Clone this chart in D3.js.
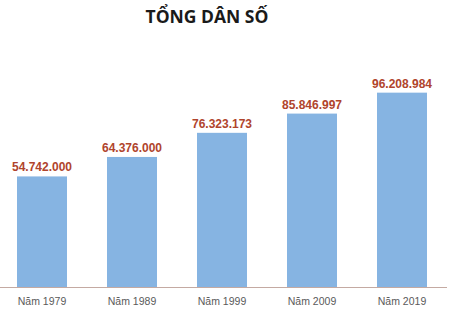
<!DOCTYPE html>
<html lang="vi">
<head>
  <meta charset="utf-8">
  <title>Tổng dân số</title>
  <script src="https://d3js.org/d3.v7.min.js"></script>
  <style>
    body { margin: 0; background: #fff; }
    .title { font: bold 17.5px "Open Sans", sans-serif; fill: #1a1a1a; }
    .nhan { font: bold 12px "Liberation Sans", Arial, sans-serif; fill: #b0442c; }
    .truc text { font: 10.5px "Liberation Sans", Arial, sans-serif; fill: #5a5a5a; }
  </style>
</head>
<body>
  <div id="chart"></div>
  <script>
    "use strict"

    var nam = ["Năm 1979", "Năm 1989", "Năm 1999", "Năm 2009", "Năm 2019"];
    var danSo = [54742000, 64376000, 76323173, 85846997, 96208984];
    var nhanSo = ["54.742.000", "64.376.000", "76.323.173", "85.846.997", "96.208.984"];

    var rongSVG = 455, caoSVG = 312;
    var dayTruc = 287;

    var svg = d3.select("#chart").append("svg")
      .attr("width", rongSVG)
      .attr("height", caoSVG);

    var x = d3.scaleBand()
      .domain(nam)
      .range([-3, 447])
      .paddingInner(4 / 9)
      .paddingOuter(2 / 9);

    var y = d3.scaleLinear()
      .domain([0, 100000000])
      .range([dayTruc, 85]);

    svg.append("text")
      .attr("class", "title")
      .attr("x", 207)
      .attr("y", 23)
      .attr("text-anchor", "middle")
      .text("TỔNG DÂN SỐ");

    svg.selectAll("rect.cot")
      .data(danSo)
      .enter().append("rect")
        .attr("class", "cot")
        .attr("x", (d, i) => x(nam[i]))
        .attr("y", d => y(d))
        .attr("width", x.bandwidth())
        .attr("height", d => dayTruc - y(d))
        .attr("fill", "#86b4e2");

    svg.selectAll("text.nhan")
      .data(danSo)
      .enter().append("text")
        .attr("class", "nhan")
        .attr("x", (d, i) => x(nam[i]) + x.bandwidth() / 2)
        .attr("y", d => y(d) - 5)
        .attr("text-anchor", "middle")
        .text((d, i) => nhanSo[i]);

    var truc = svg.append("g")
      .attr("class", "truc")
      .attr("transform", "translate(0," + dayTruc + ")")
      .call(d3.axisBottom(x).tickSize(0).tickPadding(11));
    truc.select(".domain").remove();

    svg.append("line")
      .attr("x1", 0).attr("x2", 447)
      .attr("y1", dayTruc + 0.5).attr("y2", dayTruc + 0.5)
      .attr("stroke", "#c4aaa2")
      .attr("stroke-width", 1);
  </script>
</body>
</html>
